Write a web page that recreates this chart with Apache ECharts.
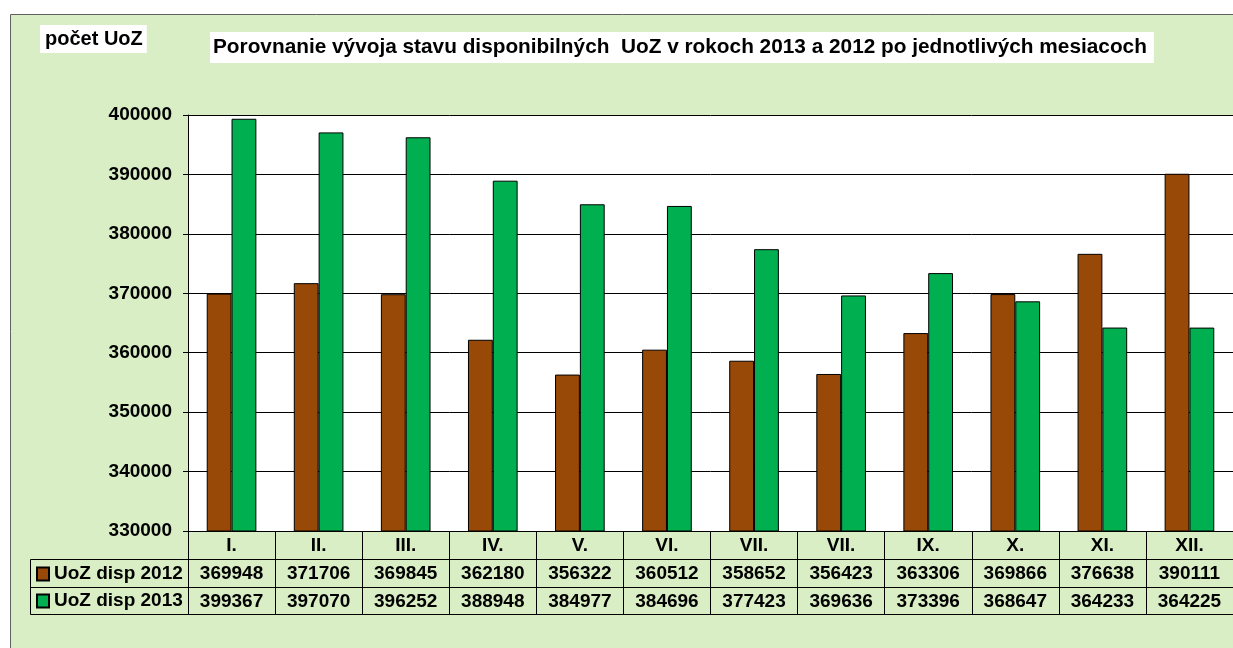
<!DOCTYPE html>
<html>
<head>
<meta charset="utf-8">
<script src="https://cdn.jsdelivr.net/npm/echarts@6/dist/echarts.min.js"></script>
<style>
  html, body { margin: 0; padding: 0; background: #fff; }
  #container { width: 1233px; height: 648px; }
</style>
</head>
<body>
<div id="container"></div>
<script>
var dom = document.getElementById("container");
var myChart = echarts.init(dom);

var months = ['I.', 'II.', 'III.', 'IV.', 'V.', 'VI.', 'VII.', 'VII.', 'IX.', 'X.', 'XI.', 'XII.'];
var disp2012 = [369948, 371706, 369845, 362180, 356322, 360512, 358652, 356423, 363306, 369866, 376638, 390111];
var disp2013 = [399367, 397070, 396252, 388948, 384977, 384696, 377423, 369636, 373396, 368647, 364233, 364225];
var seriesNames = ['UoZ disp 2012', 'UoZ disp 2013'];
var yTicks = { min: 330000, max: 400000, step: 10000 };

var font = 'Liberation Sans, Arial, sans-serif';
var bold = { color: '#000', fontWeight: 'bold', fontFamily: font, fontSize: 19 };

function tableAxis(data, offset) {
    return {
        type: 'category',
        data: data,
        position: 'bottom',
        offset: offset,
        axisLine: { show: true, lineStyle: { color: '#000', width: 1 } },
        axisTick: { show: true, interval: 0, length: 28, lineStyle: { color: '#000' } },
        axisLabel: Object.assign({ interval: 0, margin: 15, verticalAlign: 'middle' }, bold)
    };
}

var option = {
    backgroundColor: '#fff',
    animation: false,
    title: [
        {
            text: 'počet UoZ',
            left: 40, top: 25,
            padding: [4, 4, 4, 5],
            backgroundColor: '#fff',
            textStyle: { color: '#000', fontWeight: 'bold', fontFamily: font, fontSize: 20 }
        },
        {
            text: 'Porovnanie vývoja stavu disponibilných  UoZ v rokoch 2013 a 2012 po jednotlivých mesiacoch',
            left: 210, top: 32,
            padding: [5, 7, 5, 3],
            backgroundColor: '#fff',
            textStyle: { color: '#000', fontWeight: 'bold', fontFamily: font, fontSize: 20.8 }
        }
    ],
    graphic: [
        {
            type: 'rect', z: -10, silent: true,
            shape: { x: 10.5, y: 14.5, width: 1240, height: 650 },
            style: { fill: '#d9eec5', stroke: '#606060', lineWidth: 1 }
        },
        {
            type: 'polyline', z: 10, silent: true,
            shape: { points: [[188.5, 559.5], [30.5, 559.5], [30.5, 614.5], [188.5, 614.5]] },
            style: { fill: null, stroke: '#000', lineWidth: 1 }
        },
        {
            type: 'line', z: 10, silent: true,
            shape: { x1: 30.5, y1: 587.5, x2: 188.5, y2: 587.5 },
            style: { stroke: '#000', lineWidth: 1 }
        }
    ],
    legend: {
        orient: 'vertical',
        left: 31, top: 559,
        itemWidth: 12, itemHeight: 13,
        itemGap: 7,
        icon: 'rect',
        data: seriesNames,
        textStyle: Object.assign({ lineHeight: 20 }, bold)
    },
    grid: {
        left: 188, top: 115, width: 1050, height: 416,
        show: true, backgroundColor: '#fff', borderWidth: 0
    },
    xAxis: [
        tableAxis(months, 0),
        tableAxis(disp2012.map(String), 28),
        tableAxis(disp2013.map(String), 56),
        {
            type: 'category', data: months, position: 'bottom', offset: 83,
            axisLine: { show: true, lineStyle: { color: '#000' } },
            axisTick: { show: false }, axisLabel: { show: false }
        }
    ],
    yAxis: {
        type: 'value',
        min: yTicks.min, max: yTicks.max, interval: yTicks.step,
        axisLine: { show: true, lineStyle: { color: '#000' } },
        axisTick: { show: true, length: 5, lineStyle: { color: '#000' } },
        axisLabel: Object.assign({ margin: 16, formatter: function (v) { return String(v); } }, bold),
        splitLine: { show: true, lineStyle: { color: '#000', width: 1 } }
    },
    series: [
        {
            name: seriesNames[0],
            type: 'bar',
            data: disp2012,
            barGap: '0%',
            barCategoryGap: '43%',
            itemStyle: { color: '#984807', borderColor: '#000', borderWidth: 1 }
        },
        {
            name: seriesNames[1],
            type: 'bar',
            data: disp2013,
            itemStyle: { color: '#00b050', borderColor: '#000', borderWidth: 1 }
        }
    ]
};
if (option && typeof option === "object") {
    myChart.setOption(option, true);
}
</script>
</body>
</html>
